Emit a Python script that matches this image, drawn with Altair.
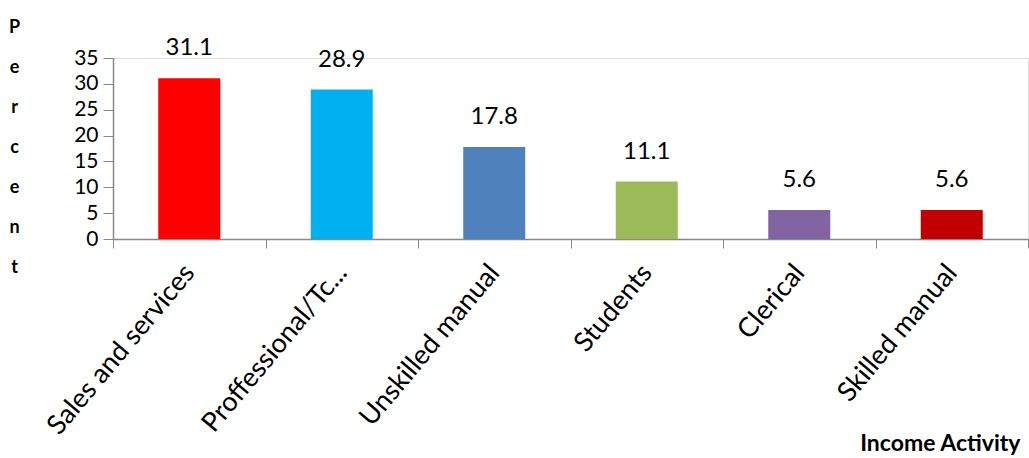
import altair as alt
import pandas as pd

categories = ["Sales and services", "Proffessional/Tc...", "Unskilled manual", "Students", "Clerical", "Skilled manual"]
values = [31.1, 28.9, 17.8, 11.1, 5.6, 5.6]
colors = ["#FF0000", "#00B0F0", "#4F81BD", "#9BBB59", "#8064A2", "#C00000"]
y_ticks = [0, 5, 10, 15, 20, 25, 30, 35]

df = pd.DataFrame({"cat": categories, "val": values, "label": [f"{v:.1f}" for v in values]})

FONT = "Lato"

x_enc = alt.X("cat:N", sort=categories,
              scale=alt.Scale(paddingInner=0, paddingOuter=0),
              axis=alt.Axis(title="Income Activity", labelAngle=-50, labelAlign="right",
                            labelBaseline="middle", labelFontSize=27, labelFont=FONT,
                            labelColor="#000000", labelPadding=20, labelLimit=400,
                            labelOverlap=False,
                            tickBand="extent", tickSize=9, tickColor="#888888",
                            domainColor="#888888", domainWidth=1.5,
                            titleFont=FONT, titleFontSize=23, titleFontWeight="bold",
                            titleAnchor="end", titleAlign="right", titleBaseline="middle",
                            titleX=907, titleY=204, titleColor="#000000"))

y_enc = alt.Y("val:Q", scale=alt.Scale(domain=[0, 35], nice=False),
              axis=alt.Axis(values=y_ticks, title=list("Percent"), titleAngle=0,
                            titleFont=FONT, titleFontSize=18, titleFontWeight="bold",
                            titleLineHeight=40, titleAlign="center", titleBaseline="top",
                            titleX=-99, titleY=-40, titleColor="#000000",
                            labelFontSize=21, labelFont=FONT, labelColor="#000000",
                            labelOverlap=False, labelFlush=False,
                            labelPadding=5, tickSize=10, tickColor="#888888",
                            domainColor="#888888", domainWidth=1.5, grid=False))

base = alt.Chart(df).encode(x=x_enc, y=y_enc)

bars = base.mark_bar(size=62).encode(
    color=alt.Color("cat:N", scale=alt.Scale(domain=categories, range=colors), legend=None))

text = base.mark_text(baseline="bottom", dy=-18, fontSize=24, font=FONT, color="#000000").encode(
    text="label:N")

chart = (bars + text).properties(
    width=915, height=181,
    autosize=alt.AutoSizeParams(type="none"),
    padding={"left": 113, "top": 58, "right": 1, "bottom": 219},
).configure_view(stroke=None).configure(background="#FFFFFF")

chart.save("out.html", embed_options={"renderer": "svg", "actions": False})
